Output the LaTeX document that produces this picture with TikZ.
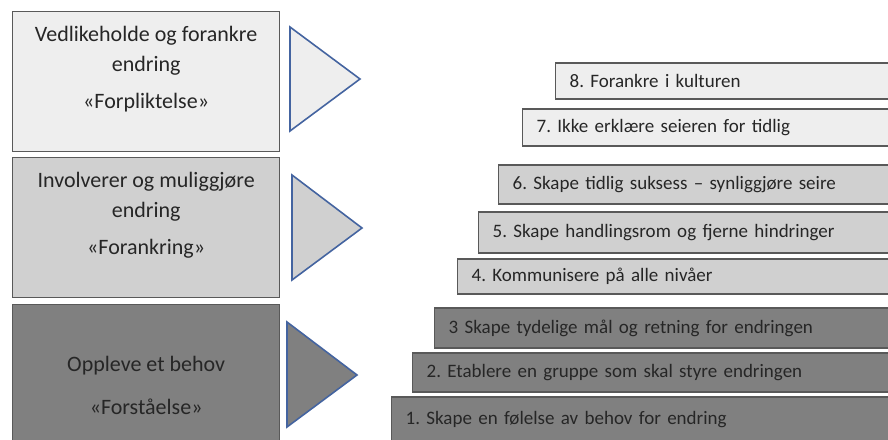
\documentclass[tikz,border=0pt]{standalone}
\usepackage{fontspec}
\setmainfont{Carlito}
\definecolor{phaselight}{RGB}{238,238,238}
\definecolor{phasemid}{RGB}{208,208,208}
\definecolor{phasedark}{RGB}{128,128,128}
\definecolor{edgegray}{RGB}{89,89,89}
\definecolor{textgray}{RGB}{38,38,38}
\definecolor{triblue}{RGB}{68,100,160}
\usetikzlibrary{positioning}

\begin{document}
\frenchspacing
\begin{tikzpicture}[x=1pt, y=-1pt,
    phase/.style={rectangle, draw=edgegray, line width=1.3pt, minimum width=267pt, minimum height=140pt, anchor=north west, inner sep=0pt},
    phasetext/.style={anchor=north, align=center, text=textgray, font=\fontsize{22}{30}\selectfont},
    bar/.style={rectangle, draw=edgegray, line width=1.3pt, anchor=west, minimum height=38pt, text width=480pt, align=left, inner xsep=14pt, text=textgray, font=\fontsize{19}{22}\selectfont},
    arrowtri/.style={draw=triblue, line width=1.6pt, line join=miter}
]
    \path[use as bounding box, clip] (0,0) rectangle (888,439);

    % Phases
    \node[phase, fill=phaselight] (p3) at (12,11) {};
    \node[phasetext, below=12pt of p3.north] {Vedlikeholde og forankre\\endring\\[7pt]«Forpliktelse»};

    \node[phase, fill=phasemid] (p2) at (12,157) {};
    \node[phasetext, below=12pt of p2.north] {Involverer og muliggjøre\\endring\\[7pt]«Forankring»};

    \node[phase, fill=phasedark, minimum height=150pt] (p1) at (12,304) {};
    \node[phasetext, below=49pt of p1.north] {Oppleve et behov\\[13pt]«Forståelse»};

    % Triangles
    \draw[arrowtri, fill=phaselight] (290,27) -- (290,131) -- (360,79) -- cycle;
    \draw[arrowtri, fill=phasemid] (292,175) -- (292,280) -- (362,228) -- cycle;
    \draw[arrowtri, fill=phasedark] (287,322) -- (287,427) -- (357,375) -- cycle;

    % Steps
    \node[bar, fill=phaselight, minimum height=36pt] (s8) at (555,81) {8. Forankre i kulturen};
    \node[bar, fill=phaselight, minimum height=37pt] (s7) at (522,127.5) {7. Ikke erklære seieren for tidlig};
    \node[bar, fill=phasemid, minimum height=39pt] (s6) at (498,184.5) {6. Skape tidlig suksess – synliggjøre seire};
    \node[bar, fill=phasemid, minimum height=41pt] (s5) at (478,232.5) {5. Skape handlingsrom og fjerne hindringer};
    \node[bar, fill=phasemid, minimum height=35pt] (s4) at (457,276.5) {4. Kommunisere på alle nivåer};
    \node[bar, fill=phasedark, minimum height=40pt] (s3) at (434,328) {3 Skape tydelige mål og retning for endringen};
    \node[bar, fill=phasedark, minimum height=39pt] (s2) at (412,372.5) {2. Etablere en gruppe som skal styre endringen};
    \node[bar, fill=phasedark, minimum height=46pt] (s1) at (391,420) {1. Skape en følelse av behov for endring};
\end{tikzpicture}
\end{document}
